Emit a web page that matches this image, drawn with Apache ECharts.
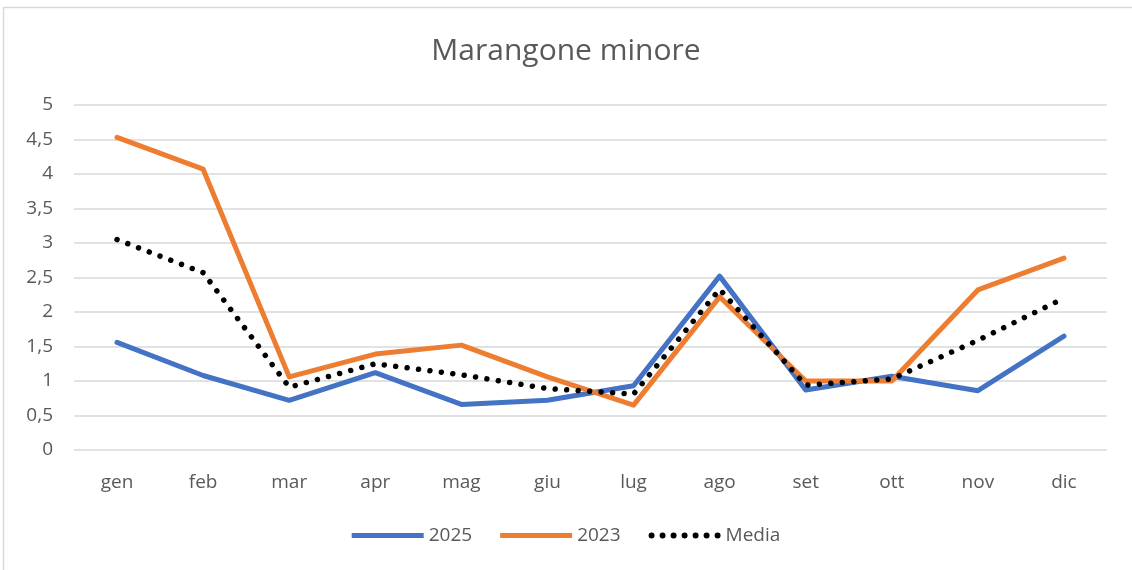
<!DOCTYPE html>
<html><head><meta charset="utf-8">
<script src="https://cdn.jsdelivr.net/npm/echarts@6/dist/echarts.min.js"></script>
<style>html,body{margin:0;padding:0;background:#fff}#c{width:1132px;height:570px}</style>
</head><body><div id="c"></div>
<script>
const categories = ['gen','feb','mar','apr','mag','giu','lug','ago','set','ott','nov','dic'];
const s2025 = [1.56,1.08,0.72,1.12,0.66,0.72,0.93,2.52,0.87,1.07,0.86,1.65];
const s2023 = [4.53,4.07,1.06,1.39,1.52,1.06,0.65,2.22,1.00,1.00,2.32,2.78];
const media = [3.05,2.57,0.91,1.25,1.09,0.89,0.81,2.33,0.94,1.03,1.59,2.20];
const seriesNames = ['2025','2023','Media'];
const font = 'Open Sans';
const chart = echarts.init(document.getElementById('c'));
const dots = Array.from({length:7},(_,i)=>'M'+(3+11*i)+',0a3,3 0 1,0 0.01,0').join('');
chart.setOption({
  animation:false,
  graphic:[{type:'rect',shape:{x:3.5,y:7.5,width:1140,height:600},style:{fill:'none',stroke:'#d9d9d9',lineWidth:1.5},silent:true}],
  title:{text:'Marangone minore',left:'center',top:31,textStyle:{fontFamily:font,fontSize:30,fontWeight:'normal',color:'#595959'}},
  legend:{bottom:20,left:'center',itemWidth:72,itemHeight:10,itemGap:28,textStyle:{fontFamily:font,fontSize:19,color:'#595959'},
    data:[{name:seriesNames[0],icon:'path://M0,0 L72,0 L72,5 L0,5 Z'},{name:seriesNames[1],icon:'path://M0,0 L72,0 L72,5 L0,5 Z'},{name:seriesNames[2],icon:'path://'+dots}]},
  grid:{left:74,right:25,top:105,bottom:120},
  xAxis:{type:'category',data:categories,boundaryGap:true,axisLine:{show:false},axisTick:{show:false},
    axisLabel:{fontFamily:font,fontSize:19,color:'#595959',margin:23}},
  yAxis:{type:'value',min:0,max:5,interval:0.5,axisLine:{show:false},axisTick:{show:false},
    splitLine:{lineStyle:{color:'#d9d9d9',width:1.5}},
    axisLabel:{fontFamily:font,fontSize:19,color:'#595959',margin:21,formatter:v=>String(v).replace('.',',')}},
  series:[
    {name:seriesNames[0],type:'line',data:s2025,symbol:'none',lineStyle:{color:'#4472c4',width:5,cap:'round',join:'round'},itemStyle:{color:'#4472c4'}},
    {name:seriesNames[1],type:'line',data:s2023,symbol:'none',lineStyle:{color:'#ed7d31',width:5,cap:'round',join:'round'},itemStyle:{color:'#ed7d31'}},
    {name:seriesNames[2],type:'line',data:media,symbol:'none',lineStyle:{color:'#000',width:5.5,type:[0.01,11.5],cap:'round',join:'round'},itemStyle:{color:'#000'}}
  ]
});
</script></body></html>
